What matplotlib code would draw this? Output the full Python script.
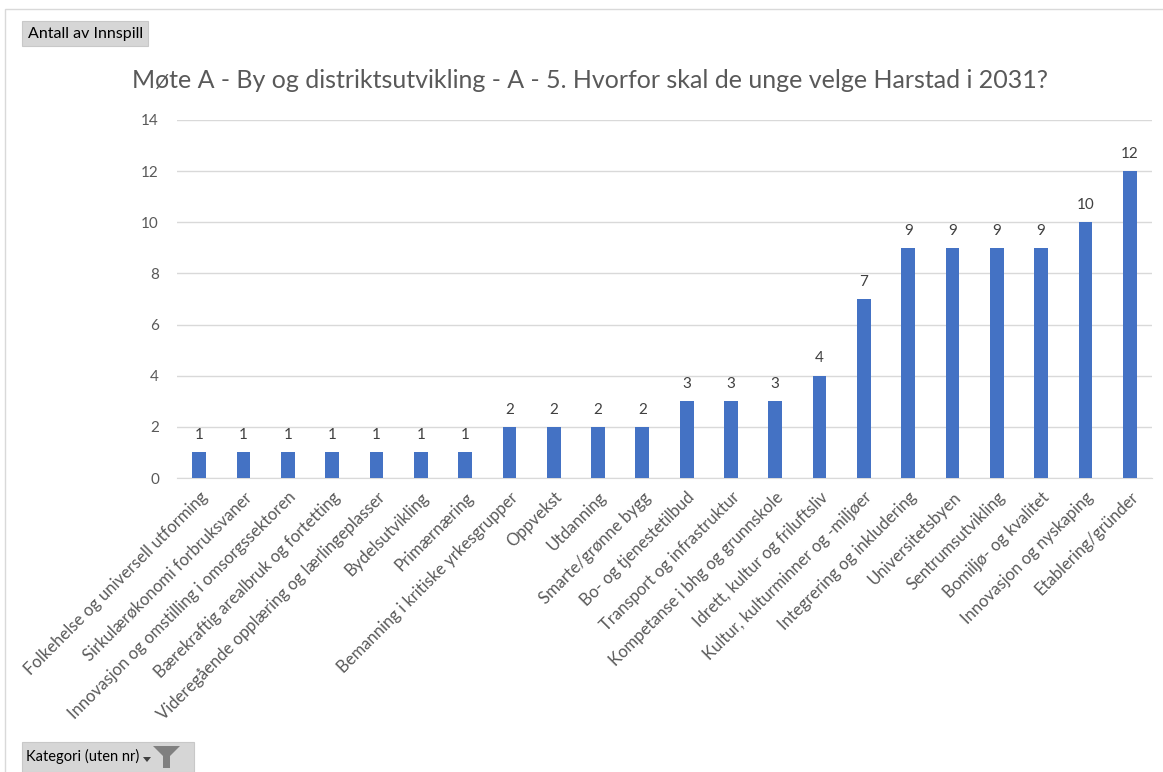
import matplotlib.pyplot as plt
from matplotlib.patches import Rectangle, Polygon

categories = [
    "Folkehelse og universell utforming",
    "Sirkulærøkonomi forbruksvaner",
    "Innovasjon og omstilling i omsorgssektoren",
    "Bærekraftig arealbruk og fortetting",
    "Videregående opplæring og lærlingeplasser",
    "Bydelsutvikling",
    "Primærnæring",
    "Bemanning i kritiske yrkesgrupper",
    "Oppvekst",
    "Utdanning",
    "Smarte/grønne bygg",
    "Bo- og tjenestetilbud",
    "Transport og infrastruktur",
    "Kompetanse i bhg og grunnskole",
    "Idrett, kultur og friluftsliv",
    "Kultur, kulturminner og -miljøer",
    "Integrering og inkludering",
    "Universitetsbyen",
    "Sentrumsutvikling",
    "Bomiljø- og kvalitet",
    "Innovasjon og nyskaping",
    "Etablering/gründer",
]
counts = [1, 1, 1, 1, 1, 1, 1, 2, 2, 2, 2, 3, 3, 3, 4, 7, 9, 9, 9, 9, 10, 12]
y_ticks = [0, 2, 4, 6, 8, 10, 12, 14]

plt.rcParams['font.family'] = ['Lato', 'DejaVu Sans']

W, H = 1163, 772


def fx(px):
    return px / W


def fy(py):
    return 1 - py / H


fig = plt.figure(figsize=(W / 100, H / 100), dpi=100)
ax = fig.add_axes([0.1522, 0.3808, 0.8383, 0.4638])

x = range(len(categories))
bars = ax.bar(x, counts, width=0.31, color='#4472C4', zorder=3)
for bar in bars:
    h = bar.get_height()
    ax.text(bar.get_x() + bar.get_width() / 2, h + 0.4, f'{int(h)}',
            ha='center', va='bottom', fontsize=11, color='#404040')

ax.set_xlim(-0.5, len(categories) - 0.5)
ax.set_ylim(0, 14)
ax.set_yticks(y_ticks)
ax.yaxis.grid(True, color='#D9D9D9', linewidth=1, zorder=0)
ax.set_xticks(list(x))
ax.set_xticklabels(categories, rotation=45, ha='right', rotation_mode='anchor',
                   fontsize=12, color='#595959')
ax.tick_params(axis='both', length=0, labelcolor='#595959')
ax.tick_params(axis='y', pad=13, labelsize=11)
ax.tick_params(axis='x', pad=8)
for s in ['top', 'right', 'left']:
    ax.spines[s].set_visible(False)
ax.spines['bottom'].set_color('#D9D9D9')

fig.text(0.507, fy(80), 'Møte A - By og distriktsutvikling - A - 5. Hvorfor skal de unge velge Harstad i 2031?',
         ha='center', va='center', fontsize=18, color='#595959')

# outer frame
fig.patches.append(Rectangle((fx(5), -0.01), 1.02, fy(9) + 0.01,
                             transform=fig.transFigure, fill=False,
                             edgecolor='#D9D9D9', linewidth=1))

# pivot field buttons
fig.patches.append(Rectangle((fx(22), fy(46)), fx(126), 25 / H,
                             transform=fig.transFigure, facecolor='#D6D6D6',
                             edgecolor='#C8C8C8', linewidth=0.8))
fig.text(fx(28), fy(34), 'Antall av Innspill', ha='left', va='center',
         fontsize=11.5, color='#000000')

fig.patches.append(Rectangle((fx(22), fy(772)), fx(172), 30 / H,
                             transform=fig.transFigure, facecolor='#D6D6D6',
                             edgecolor='#C8C8C8', linewidth=0.8))
fig.text(fx(26), fy(756), 'Kategori (uten nr)', ha='left', va='center',
         fontsize=10.5, color='#000000')
arrow = [(143, 757), (151, 757), (147, 762)]
fig.patches.append(Polygon([(fx(px), fy(py)) for px, py in arrow],
                           closed=True, transform=fig.transFigure,
                           facecolor='#404040', edgecolor='none'))
funnel = [(153, 746), (180, 746), (170, 756), (170, 768), (163, 768), (163, 756)]
fig.patches.append(Polygon([(fx(px), fy(py)) for px, py in funnel],
                           closed=True, transform=fig.transFigure,
                           facecolor='#808080', edgecolor='none'))

plt.savefig('out.png', dpi=100)
